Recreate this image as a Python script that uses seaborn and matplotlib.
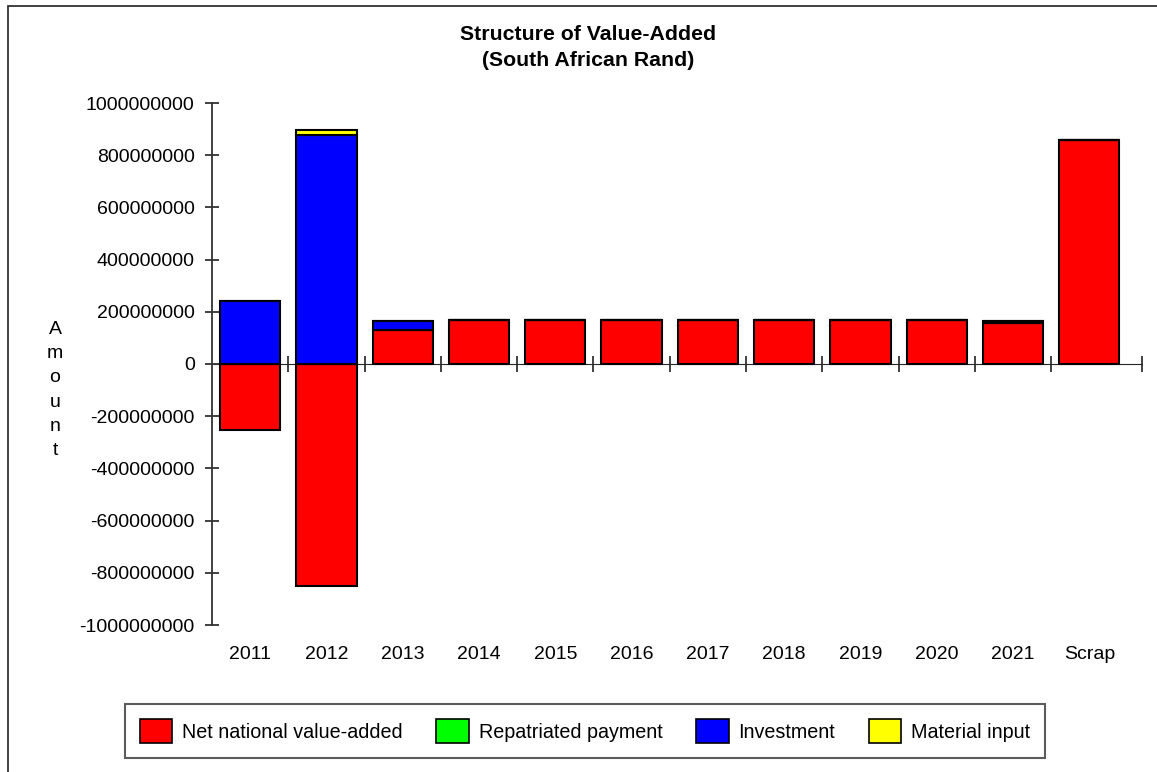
import numpy as np
import pandas as pd
import seaborn as sns
import matplotlib
matplotlib.use("Agg")
import matplotlib.pyplot as plt
from matplotlib.patches import Rectangle, Patch

categories = ["2011", "2012", "2013", "2014", "2015", "2016", "2017",
              "2018", "2019", "2020", "2021", "Scrap"]
net_value_added = [-254e6, -850e6, 131e6, 168e6, 168e6, 168e6, 168e6,
                   168e6, 168e6, 168e6, 158e6, 860e6]
repatriated = [0, 0, 0, 0, 0, 0, 0, 0, 0, 0, 0, 0]
investment = [243e6, 877e6, 34e6, 0, 0, 0, 0, 0, 0, 0, 8e6, 0]
material_input = [0, 20e6, 0, 0, 0, 0, 0, 0, 0, 0, 0, 0]

series_names = ["Net national value-added", "Repatriated payment",
                "Investment", "Material input"]
colors = ["#FF0000", "#00FF00", "#0000FF", "#FFFF00"]

sns.set_style("white")
plt.rcParams["font.family"] = ["Liberation Sans", "DejaVu Sans"]
plt.rcParams["text.color"] = "black"
plt.rcParams["xtick.color"] = "#333333"
plt.rcParams["ytick.color"] = "#333333"
plt.rcParams["xtick.labelcolor"] = "black"
plt.rcParams["ytick.labelcolor"] = "black"

W, H = 1157, 772
fig = plt.figure(figsize=(W / 100, H / 100), dpi=100)
ax = fig.add_axes([212 / W, 1 - 625 / H, (1142 - 212) / W, (625 - 103) / H])

nva = np.array(net_value_added)
rep = np.array(repatriated)
inv = np.array(investment)
mat = np.array(material_input)
pos_base = np.where(nva > 0, nva, 0.0)

df = pd.DataFrame({"cat": categories})
bw = 0.79
stack = [
    (nva, np.zeros_like(nva)),
    (rep, pos_base),
    (inv, pos_base + rep),
    (mat, pos_base + rep + inv),
]
for (vals, bottom), col in zip(stack, colors):
    sns.barplot(x=df["cat"], y=vals, bottom=bottom, color=col, saturation=1,
                width=bw, edgecolor="black", linewidth=1.5, ax=ax,
                errorbar=None)

n = len(categories)
x_right = n - 0.5 + 0.19
ax.set_xlim(-0.5, x_right)
ax.set_ylim(-1e9, 1e9)
yt = np.arange(-1e9, 1.01e9, 2e8)
ax.set_yticks(yt)
ax.set_yticklabels([f"{int(v)}" for v in yt], fontsize=14)
ax.tick_params(axis="y", direction="inout", length=10, width=1.3,
               pad=7.5, left=True)
ax.tick_params(axis="x", length=0, labelsize=14, pad=15)
ax.set_xlabel("")
ax.set_ylabel("")

for s in ["top", "right", "bottom"]:
    ax.spines[s].set_visible(False)
ax.spines["left"].set_color("#333333")
ax.spines["left"].set_linewidth(1.3)

sec = ax.secondary_xaxis(0.5)
sec.set_xticks(list(np.arange(0.5, n - 1, 1.0)) + [x_right])
sec.set_xticklabels([])
sec.tick_params(direction="inout", length=11.5, width=1.3, color="#333333")
sec.spines["bottom"].set_color("#333333")
sec.spines["bottom"].set_linewidth(1.3)

fig.text(55 / W, 1 - 390 / H, "A\nm\no\nu\nn\nt", ha="center", va="center",
         fontsize=14, linespacing=1.55)

fig.text(588 / W, 1 - 35 / H, "Structure of Value-Added", ha="center",
         va="center", fontsize=15.3, fontweight="bold")
fig.text(588 / W, 1 - 61 / H, "(South African Rand)", ha="center",
         va="center", fontsize=15.3, fontweight="bold")

handles = [Patch(facecolor=c, edgecolor="black", linewidth=1.2) for c in colors]
leg = fig.legend(handles, series_names, ncol=4, loc="center",
                 bbox_to_anchor=(585 / W, 1 - 731 / H), fontsize=14.2,
                 frameon=True, fancybox=False, shadow=False,
                 handlelength=1.65, handleheight=1.5, handletextpad=0.5,
                 columnspacing=1.7, borderpad=0.75, borderaxespad=0)
leg.get_frame().set_edgecolor("#333333")
leg.get_frame().set_linewidth(1.5)

fig.patches.append(Rectangle((8 / W, -0.05), 1.1, 1 - 6 / H + 0.05,
                             transform=fig.transFigure, fill=False,
                             edgecolor="#333333", linewidth=1.3))

fig.savefig("out.png", dpi=100, facecolor="white")
